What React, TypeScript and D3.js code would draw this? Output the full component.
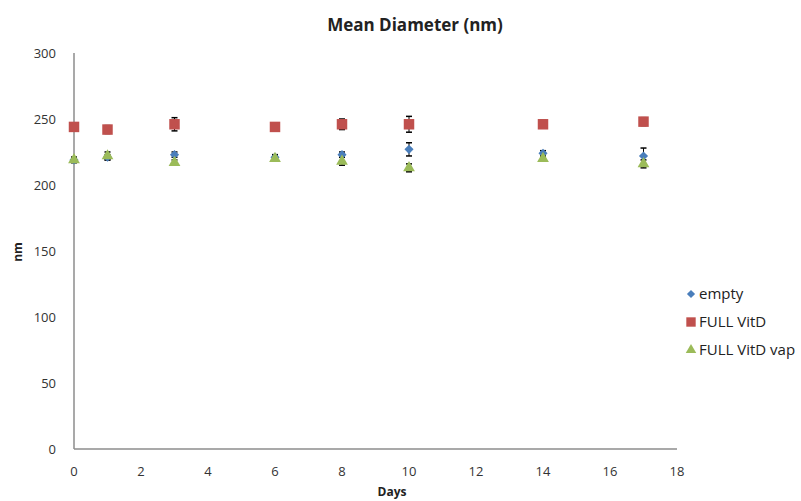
import { useEffect, useRef } from 'react'
import * as d3 from 'd3'

const days = [0, 1, 3, 6, 8, 10, 14, 17]
const emptyVals = [219, 221, 223, 221, 223, 227, 224, 222]
const emptyErr = [2, 2, 2, 2, 2, 5, 2, 6]
const vitdVals = [244, 242, 246, 244, 246, 246, 246, 248]
const vitdErr = [2, 3, 5, 2, 4, 6, 3, 3]
const vapVals = [219, 222, 217, 220, 218, 213, 220, 216]
const vapErr = [2, 3, 2, 2, 3, 3, 2, 3]
const xTicks = [0, 2, 4, 6, 8, 10, 12, 14, 16, 18]
const yTicks = [0, 50, 100, 150, 200, 250, 300]
const seriesNames = ['empty', 'FULL VitD', 'FULL VitD vap']

const FONT = '"Open Sans", "DejaVu Sans", sans-serif'

export default function App() {
  const ref = useRef<SVGSVGElement>(null)

  useEffect(() => {
    const svg = d3.select(ref.current)
    svg.selectAll('*').remove()

    const x = d3.scaleLinear().domain([0, 18]).range([74, 677])
    const y = d3.scaleLinear().domain([0, 300]).range([449, 53])

    // axes lines
    svg.append('line').attr('x1', x(0)).attr('x2', x(0)).attr('y1', y(300)).attr('y2', y(0))
      .attr('stroke', '#8c8c8c').attr('stroke-width', 1.5)
    svg.append('line').attr('x1', x(0)).attr('x2', x(18)).attr('y1', y(0)).attr('y2', y(0))
      .attr('stroke', '#8c8c8c').attr('stroke-width', 1.5)

    svg.append('g').selectAll('text').data(yTicks).enter().append('text')
      .attr('x', 56).attr('y', (d) => y(d)).attr('dy', '0.35em')
      .attr('text-anchor', 'end').attr('font-size', 13).attr('fill', '#333')
      .attr('font-family', FONT).text((d) => d)

    svg.append('g').selectAll('text').data(xTicks).enter().append('text')
      .attr('x', (d) => x(d)).attr('y', 476)
      .attr('text-anchor', 'middle').attr('font-size', 13).attr('fill', '#333')
      .attr('font-family', FONT).text((d) => d)

    svg.append('text').attr('x', 415).attr('y', 31).attr('text-anchor', 'middle')
      .attr('font-size', 17).attr('font-weight', 'bold').attr('fill', '#222')
      .attr('font-family', FONT).text('Mean Diameter (nm)')
    svg.append('text').attr('x', 392).attr('y', 496).attr('text-anchor', 'middle')
      .attr('font-size', 12).attr('font-weight', 'bold').attr('fill', '#222')
      .attr('font-family', FONT).text('Days')
    svg.append('text').attr('transform', `translate(22,252) rotate(-90)`).attr('text-anchor', 'middle')
      .attr('font-size', 12).attr('font-weight', 'bold').attr('fill', '#222')
      .attr('font-family', FONT).text('nm')

    const series = [
      { vals: emptyVals, err: emptyErr, color: '#4a7ebb', sym: d3.symbolSquare, size: 42, rot: 45 },
      { vals: vitdVals, err: vitdErr, color: '#c0504d', sym: d3.symbolSquare, size: 110, rot: 0 },
      { vals: vapVals, err: vapErr, color: '#9bbb59', sym: d3.symbolTriangle, size: 60, rot: 0 },
    ]

    // error bars first, markers drawn over them
    const errG = svg.append('g')
    const markG = svg.append('g')
    series.forEach((s) => {
      days.forEach((d, i) => {
        const cx = x(d)
        const top = y(s.vals[i] + s.err[i])
        const bot = y(s.vals[i] - s.err[i])
        errG.append('line').attr('x1', cx).attr('x2', cx).attr('y1', top).attr('y2', bot)
          .attr('stroke', '#000').attr('stroke-width', 1)
        ;[top, bot].forEach((yy) => {
          errG.append('line').attr('x1', cx - 3).attr('x2', cx + 3).attr('y1', yy).attr('y2', yy)
            .attr('stroke', '#000').attr('stroke-width', 1.5)
        })
      })
    })
    series.forEach((s) => {
      days.forEach((d, i) => {
        markG.append('path').attr('d', d3.symbol().type(s.sym).size(s.size)())
          .attr('transform', `translate(${x(d)},${y(s.vals[i])}) rotate(${s.rot})`)
          .attr('fill', s.color)
      })
    })

    // legend
    const leg = svg.append('g')
    seriesNames.forEach((name, i) => {
      const ly = 294 + i * 28
      leg.append('path').attr('d', d3.symbol().type(series[i].sym).size(series[i].size * 0.8)())
        .attr('transform', `translate(691,${ly}) rotate(${series[i].rot})`).attr('fill', series[i].color)
      leg.append('text').attr('x', 699).attr('y', ly).attr('dy', '0.35em')
        .attr('font-size', 15).attr('fill', '#222').attr('font-family', FONT).text(name)
    })
  }, [])

  return (
    <svg ref={ref} width={801} height={501}
      style={{ position: 'absolute', left: 0, top: 0, background: '#fff' }} />
  )
}
